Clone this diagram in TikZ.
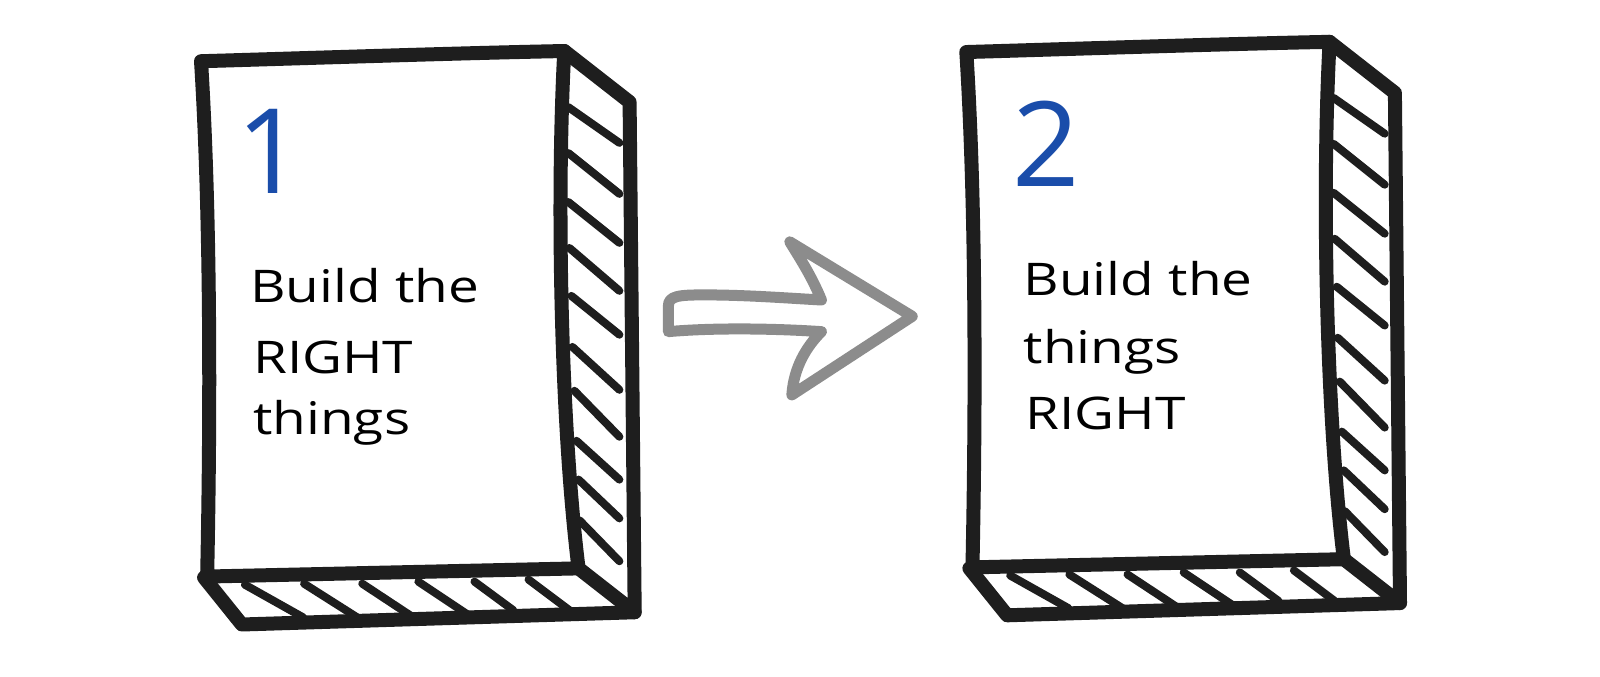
\documentclass[tikz,border=0pt]{standalone}
\usepackage{fontspec}
\setmainfont{Open Sans}
\newfontfamily\hand[FakeStretch=1.22]{Open Sans}
\definecolor{ink}{HTML}{1E1E1E}
\definecolor{numblue}{HTML}{1A4DAA}
\definecolor{arrowgray}{HTML}{8C8C8C}
\tikzset{
  edge/.style={draw=ink, line width=14pt, line cap=round, line join=round},
  hatchline/.style={draw=ink, line width=8pt, line cap=round},
  arrowline/.style={draw=arrowgray, line width=11pt, line cap=round, line join=round},
  label/.style={font=\hand\fontsize{45}{45}\selectfont, text=black, anchor=base west, inner sep=0pt},
  num/.style={font=\fontsize{118}{118}\selectfont, text=numblue, anchor=base west, inner sep=0pt},
}
\newcommand{\sketchbook}{%
  % front face
  \draw[edge] (197,60) .. controls (300,57) and (450,52) .. (553,50)
    .. controls (545,200) and (550,420) .. (567,557)
    -- (203,565)
    .. controls (206,420) and (207,220) .. cycle;
  % right side panel
  \draw[edge] (553,50) -- (617,100) -- (622,600) -- (567,557);
  % bottom panel
  \draw[edge] (200,566) -- (237,612) -- (622,600);
  % side hatching
  \foreach \ya/\xa/\yb in {105/557/140, 150/557/190, 198/557/238, 243/558/285, 290/560/328,
                           340/561/382, 383/563/428, 432/565/470, 470/567/508, 510/568/550}
    \draw[hatchline] (\xa,\ya) -- (607,\yb);
  % bottom hatching
  \foreach \xa/\ya/\xb/\yb in {240/573/297/605, 298/572/350/605, 355/572/405/605,
                               410/570/458/602, 465/570/503/598, 518/568/558/598}
    \draw[hatchline] (\xa,\ya) -- (\xb,\yb);
}
\begin{document}
\begin{tikzpicture}[x=1.0204pt, y=-1.0204pt]
\useasboundingbox[fill=white] (0,0) rectangle (1568,663);

% book 1
\sketchbook
\node[num] (n1) at (232,190) {1};
\node[label] (t1a) at (245,296) {Build the};
\node[label] (t1b) at (248,366) {RIGHT};
\node[label] (t1c) at (248,426) {things};

% book 2
\begin{scope}[shift={(750,-9)}]
\sketchbook
\end{scope}
\node[num] (n2) at (992,183) {2};
\node[label] (t2a) at (1003,290) {Build the};
\node[label] (t2b) at (1003,356) {things};
\node[label] (t2c) at (1005,421) {RIGHT};

% arrow
\draw[arrowline] (655,300) .. controls (655,290) and (665,289) .. (690,289)
  .. controls (730,289) and (770,292) .. (805,294)
  .. controls (795,270) and (785,255) .. (774,237)
  -- (894,310)
  -- (776,387)
  .. controls (778,360) and (790,340) .. (805,325)
  .. controls (760,322) and (700,321) .. (655,325)
  -- cycle;
\end{tikzpicture}
\end{document}
